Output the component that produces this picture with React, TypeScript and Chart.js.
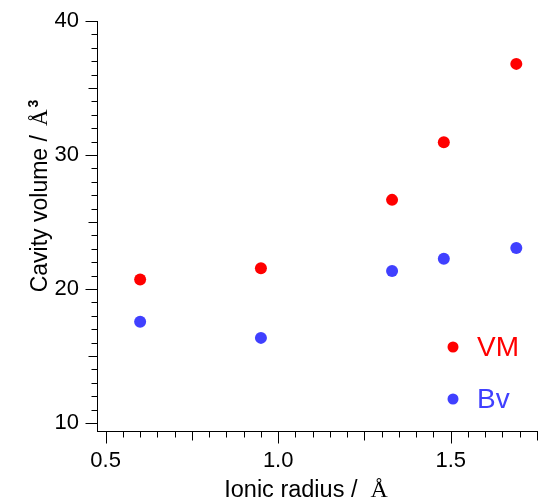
import React, { useEffect, useRef } from 'react';
import { Chart, registerables } from 'chart.js';

Chart.register(...registerables);

const ionicRadius = [0.6, 0.95, 1.33, 1.48, 1.69];
const vmValues = [20.7, 21.55, 26.65, 30.95, 36.8];
const bvValues = [17.55, 16.35, 21.35, 22.25, 23.05];
const seriesNames = ['VM', 'Bv'];
const seriesColors = ['#ff0000', '#4040ff'];
const xTickValues = [0.5, 1.0, 1.5];
const yTickValues = [10, 20, 30, 40];
const xTitle = 'Ionic radius /';
const yTitle = 'Cavity volume /';
const unitSymbol = 'Å';
const unitPower = '3';

const SANS = '"Liberation Sans", Arial, Helvetica, sans-serif';
const SERIF = '"Liberation Serif", "Times New Roman", serif';

const decorPlugin = {
  id: 'decor',
  afterDraw(chart: any) {
    const ctx = chart.ctx as CanvasRenderingContext2D;
    const xs = chart.scales.x;
    const ys = chart.scales.y;
    ctx.save();
    ctx.strokeStyle = '#000';
    ctx.lineWidth = 1;
    // y ticks (major 10, medium 5, minor 1)
    const ax = Math.floor(ys.right) + 0.5;
    ctx.beginPath();
    for (let k = 10; k <= 40; k++) {
      const len = k % 10 === 0 ? 12 : k % 5 === 0 ? 9 : 6;
      const py = Math.round(ys.getPixelForValue(k)) + 0.5;
      ctx.moveTo(ax - len, py);
      ctx.lineTo(ax, py);
    }
    // x ticks (major 0.5, medium 0.25, minor 0.05)
    const ay = Math.floor(xs.top) + 0.5;
    for (let i = 0; i <= 25; i++) {
      const v = 0.5 + 0.05 * i;
      const len = i % 10 === 0 ? 12 : i % 5 === 0 ? 9 : 6;
      const px = Math.round(xs.getPixelForValue(v)) + 0.5;
      ctx.moveTo(px, ay);
      ctx.lineTo(px, ay + len);
    }
    ctx.stroke();

    // x title
    ctx.fillStyle = '#000';
    ctx.textBaseline = 'alphabetic';
    ctx.textAlign = 'left';
    const xGap = 13;
    ctx.font = `23.5px ${SANS}`;
    const w1 = ctx.measureText(xTitle).width;
    ctx.font = `24px ${SERIF}`;
    const w2 = ctx.measureText(unitSymbol).width;
    const xc = 306;
    const sx = xc - (w1 + xGap + w2) / 2;
    ctx.font = `23.5px ${SANS}`;
    ctx.fillText(xTitle, sx, 497);
    ctx.font = `24px ${SERIF}`;
    ctx.fillText(unitSymbol, sx + w1 + xGap, 497);

    // y title (rotated)
    ctx.save();
    ctx.translate(47, 196);
    ctx.rotate(-Math.PI / 2);
    const yGap = 9;
    ctx.font = `23px ${SANS}`;
    const t1 = ctx.measureText(yTitle).width;
    ctx.font = `23px ${SERIF}`;
    const t2 = ctx.measureText(unitSymbol).width;
    ctx.font = `bold 14px ${SANS}`;
    const t3 = ctx.measureText(unitPower).width;
    const tot = t1 + yGap + t2 + 2 + t3;
    const s = -tot / 2;
    ctx.font = `23px ${SANS}`;
    ctx.fillText(yTitle, s, 0);
    ctx.font = `23px ${SERIF}`;
    ctx.fillText(unitSymbol, s + t1 + yGap, 0);
    ctx.font = `bold 14px ${SANS}`;
    ctx.fillText(unitPower, s + t1 + yGap + t2 + 2, -9);
    ctx.restore();

    // legend inside plot
    const legendY = [347, 399];
    ctx.font = `28px ${SANS}`;
    ctx.textBaseline = 'middle';
    for (let i = 0; i < seriesNames.length; i++) {
      ctx.fillStyle = seriesColors[i];
      ctx.beginPath();
      ctx.arc(453, legendY[i], 5.5, 0, Math.PI * 2);
      ctx.fill();
      ctx.fillText(seriesNames[i], 477, legendY[i] + 1);
    }
    ctx.restore();
  },
};

export default function App() {
  const ref = useRef<HTMLCanvasElement | null>(null);
  useEffect(() => {
    document.body.style.margin = '0';
    const canvas = ref.current!;
    const series = [vmValues, bvValues];
    const chart = new Chart(canvas, {
      type: 'scatter',
      data: {
        datasets: series.map((vals, i) => ({
          label: seriesNames[i],
          data: ionicRadius.map((x, j) => ({ x, y: vals[j] })),
          backgroundColor: seriesColors[i],
          borderColor: seriesColors[i],
          borderWidth: 0,
          pointRadius: 6,
          pointHoverRadius: 6,
          showLine: false,
        })),
      },
      options: {
        responsive: false,
        animation: false,
        devicePixelRatio: 1,
        layout: { padding: { top: 21, right: 10, left: 0, bottom: 0 } },
        plugins: {
          legend: { display: false },
          tooltip: { enabled: false },
        },
        scales: {
          x: {
            type: 'linear',
            min: 0.475,
            max: 1.75,
            afterBuildTicks: (s: any) => {
              s.ticks = xTickValues.map((v) => ({ value: v }));
            },
            afterFit: (s: any) => {
              s.height = 72;
            },
            grid: {
              display: true,
              drawOnChartArea: false,
              drawTicks: true,
              tickLength: 12,
              color: 'rgba(0,0,0,0)',
            },
            border: { display: true, color: '#000', width: 1 },
            ticks: {
              color: '#000',
              padding: 5,
              maxRotation: 0,
              font: { family: SANS, size: 22 },
              callback: (v: any) => Number(v).toFixed(1),
            },
          },
          y: {
            type: 'linear',
            min: 9.4,
            max: 40,
            afterBuildTicks: (s: any) => {
              s.ticks = yTickValues.map((v) => ({ value: v }));
            },
            afterFit: (s: any) => {
              s.width = 97;
            },
            grid: {
              display: true,
              drawOnChartArea: false,
              drawTicks: true,
              tickLength: 12,
              color: 'rgba(0,0,0,0)',
            },
            border: { display: true, color: '#000', width: 1 },
            ticks: {
              color: '#000',
              padding: 6,
              font: { family: SANS, size: 22 },
              callback: (v: any) => String(v),
            },
          },
        },
      },
      plugins: [decorPlugin],
    } as any);
    return () => chart.destroy();
  }, []);
  return (
    <canvas
      ref={ref}
      width={547}
      height={503}
      style={{ display: 'block', width: 547, height: 503 }}
    />
  );
}
